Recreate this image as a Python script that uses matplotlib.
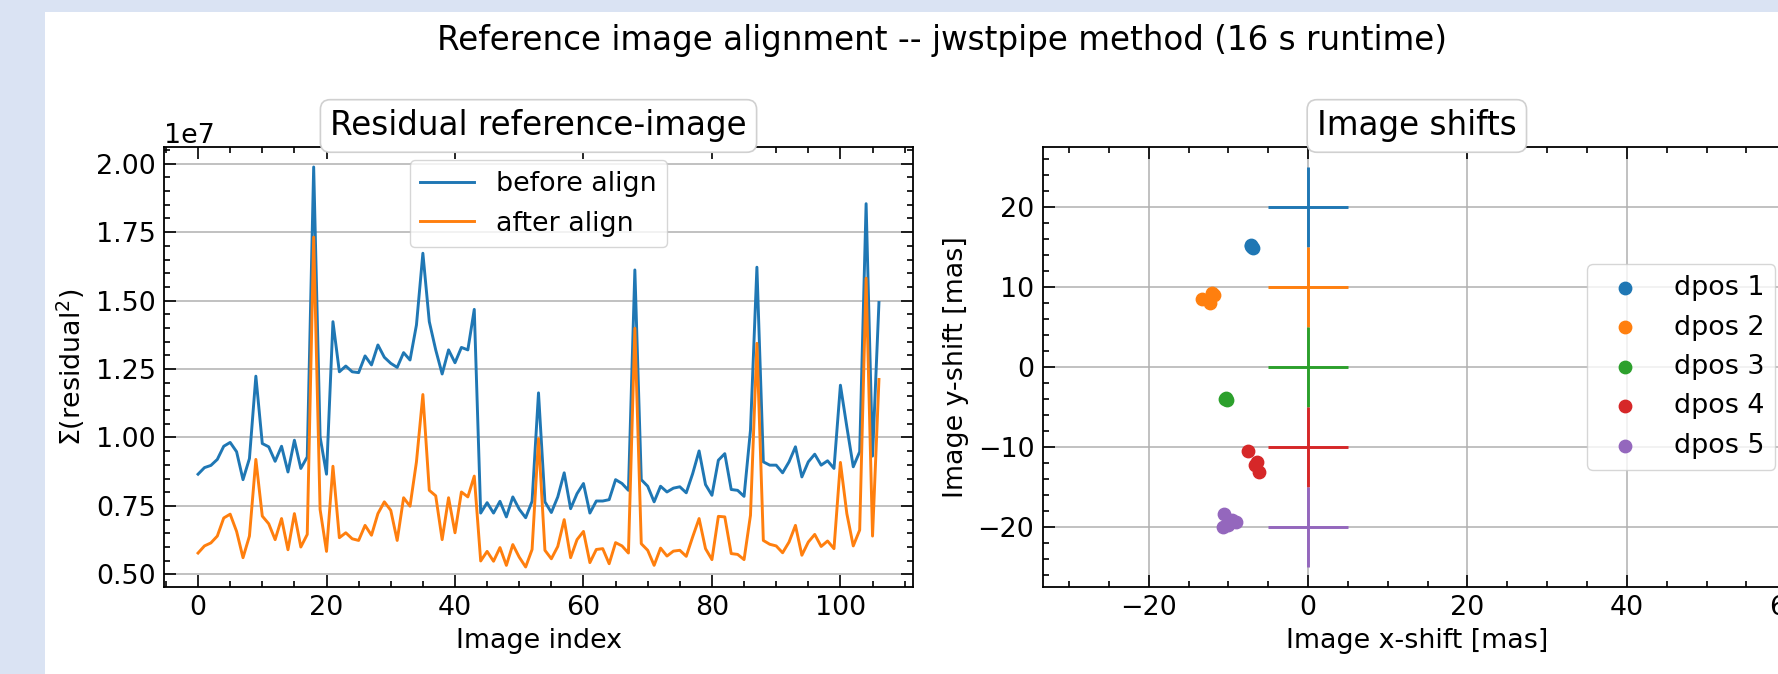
import numpy as np
import matplotlib.pyplot as plt
from matplotlib.patches import Rectangle
from matplotlib.ticker import MultipleLocator

# residual sums per image, in units of 1e7
before_align = [0.866, 0.890, 0.898, 0.920, 0.968, 0.982, 0.948, 0.846, 0.923, 1.224,
                0.978, 0.966, 0.913, 0.968, 0.874, 0.990, 0.887, 0.929, 1.988, 1.002,
                0.866, 1.423, 1.240, 1.261, 1.240, 1.237, 1.298, 1.265, 1.338, 1.293,
                1.271, 1.256, 1.310, 1.283, 1.411, 1.673, 1.423, 1.320, 1.232, 1.320,
                1.273, 1.329, 1.320, 1.468, 0.724, 0.762, 0.724, 0.767, 0.710, 0.783,
                0.738, 0.707, 0.767, 1.163, 0.765, 0.726, 0.783, 0.871, 0.740, 0.795,
                0.832, 0.724, 0.768, 0.768, 0.773, 0.846, 0.832, 0.807, 1.612, 0.846,
                0.822, 0.765, 0.822, 0.801, 0.815, 0.820, 0.798, 0.868, 0.951, 0.828,
                0.789, 0.917, 0.941, 0.810, 0.807, 0.785, 1.027, 1.622, 0.911, 0.899,
                0.899, 0.871, 0.911, 0.966, 0.856, 0.911, 0.939, 0.899, 0.915, 0.887,
                1.191, 1.039, 0.893, 0.948, 1.854, 0.932, 1.493]
after_align = [0.578, 0.604, 0.615, 0.640, 0.706, 0.720, 0.657, 0.561, 0.640, 0.920,
               0.713, 0.685, 0.627, 0.704, 0.590, 0.722, 0.600, 0.646, 1.732, 0.737,
               0.584, 0.895, 0.634, 0.652, 0.630, 0.624, 0.679, 0.643, 0.722, 0.765,
               0.734, 0.624, 0.780, 0.749, 0.911, 1.157, 0.807, 0.787, 0.627, 0.780,
               0.652, 0.801, 0.783, 0.859, 0.549, 0.584, 0.548, 0.598, 0.533, 0.609,
               0.563, 0.527, 0.591, 0.996, 0.588, 0.557, 0.602, 0.700, 0.561, 0.627,
               0.657, 0.543, 0.591, 0.594, 0.539, 0.616, 0.604, 0.578, 1.399, 0.612,
               0.588, 0.533, 0.596, 0.567, 0.585, 0.588, 0.566, 0.637, 0.704, 0.594,
               0.554, 0.712, 0.710, 0.576, 0.573, 0.554, 0.716, 1.344, 0.624, 0.610,
               0.604, 0.579, 0.618, 0.679, 0.570, 0.618, 0.646, 0.602, 0.622, 0.594,
               0.909, 0.722, 0.604, 0.662, 1.582, 0.640, 1.212]
scale = 1e7

# measured shifts per dither position [mas], plotted with a y offset per dpos
dpos_labels = ['dpos 1', 'dpos 2', 'dpos 3', 'dpos 4', 'dpos 5']
dpos_x = [[-7.2, -7.0, -6.9, -7.1],
          [-13.3, -12.3, -12.0, -11.8],
          [-10.3, -10.2, -10.4],
          [-7.5, -6.4, -6.6, -6.1],
          [-10.5, -10.7, -9.0, -9.5, -10.0]]
dpos_y = [[15.2, 15.0, 14.9, 15.1],
          [8.5, 8.0, 9.3, 9.0],
          [-3.9, -4.1, -4.0],
          [-10.5, -11.9, -12.3, -13.1],
          [-18.4, -20.0, -19.4, -19.1, -19.7]]
dpos_offset = [20, 10, 0, -10, -20]
cross_half = 5

W, H = 1778, 674
fig = plt.figure(figsize=(W / 100, H / 100), dpi=100, facecolor='#dae3f3')
fig.patches.append(Rectangle((45 / W, 0), 1, 1 - 12 / H, transform=fig.transFigure,
                             facecolor='white', edgecolor='none', zorder=-10))

fs = 19.4
tfs = 23.5
title_box = dict(boxstyle='round,pad=0.3', facecolor='white', edgecolor='#d0d0d0', lw=1.2)


def style_axes(ax):
    ax.minorticks_on()
    ax.tick_params(which='both', direction='in', top=True, right=True,
                   labelsize=fs, width=1.2, pad=6)
    ax.tick_params(which='major', length=8.4)
    ax.tick_params(which='minor', length=4.6)
    for s in ax.spines.values():
        s.set_linewidth(1.3)


# left panel: residuals
ax1 = fig.add_axes([164 / W, 1 - 587 / H, 749 / W, 440 / H])
idx = np.arange(len(before_align))
ax1.plot(idx, np.array(before_align) * scale, color='tab:blue', lw=2.1, label='before align')
ax1.plot(idx, np.array(after_align) * scale, color='tab:orange', lw=2.1, label='after align')
style_axes(ax1)
ax1.xaxis.set_major_locator(MultipleLocator(20))
ax1.xaxis.set_minor_locator(MultipleLocator(5))
ax1.yaxis.set_major_locator(MultipleLocator(0.25e7))
ax1.yaxis.set_minor_locator(MultipleLocator(0.05e7))
ax1.yaxis.get_offset_text().set_fontsize(fs)
ax1.grid(axis='y', which='major', color='#b0b0b0', lw=1.1)
ax1.set_xlabel('Image index', fontsize=fs, labelpad=5)
ax1.set_ylabel(r'$\Sigma$(residual$^2$)', fontsize=fs, labelpad=6)
ax1.set_title('Residual reference-image', fontsize=tfs, pad=8.3, bbox=title_box)
ax1.legend(loc='upper center', fontsize=fs)

# right panel: image shifts
ax2 = fig.add_axes([1042.7 / W, 1 - 587 / H, 748.3 / W, 440 / H])
colors = ['tab:blue', 'tab:orange', 'tab:green', 'tab:red', 'tab:purple']
for xs, ys, lab, c in zip(dpos_x, dpos_y, dpos_labels, colors):
    ax2.scatter(xs, ys, s=80, color=c, label=lab, zorder=3)
for off, c in zip(dpos_offset, colors):
    ax2.errorbar(0, off, xerr=cross_half, yerr=cross_half, fmt='none', ecolor=c, elinewidth=2.1)
style_axes(ax2)
ax2.set_xlim(-33.3, 60.6)
ax2.set_ylim(-27.5, 27.5)
ax2.xaxis.set_major_locator(MultipleLocator(20))
ax2.xaxis.set_minor_locator(MultipleLocator(5))
ax2.yaxis.set_major_locator(MultipleLocator(10))
ax2.yaxis.set_minor_locator(MultipleLocator(2))
ax2.grid(which='major', color='#b0b0b0', lw=1.1)
ax2.set_axisbelow(True)
ax2.set_xlabel('Image x-shift [mas]', fontsize=fs, labelpad=5)
ax2.set_ylabel('Image y-shift [mas]', fontsize=fs, labelpad=6)
ax2.set_title('Image shifts', fontsize=tfs, pad=8.3, bbox=title_box)
ax2.legend(loc='center right', fontsize=fs, bbox_to_anchor=(1775 / W, 1 - 367 / H),
           bbox_transform=fig.transFigure, borderaxespad=0)

fig.text(942 / W, 1 - 50 / H, 'Reference image alignment -- jwstpipe method (16 s runtime)',
         ha='center', va='baseline', fontsize=23.5)

fig.savefig('out.png', dpi=100, facecolor=fig.get_facecolor())
